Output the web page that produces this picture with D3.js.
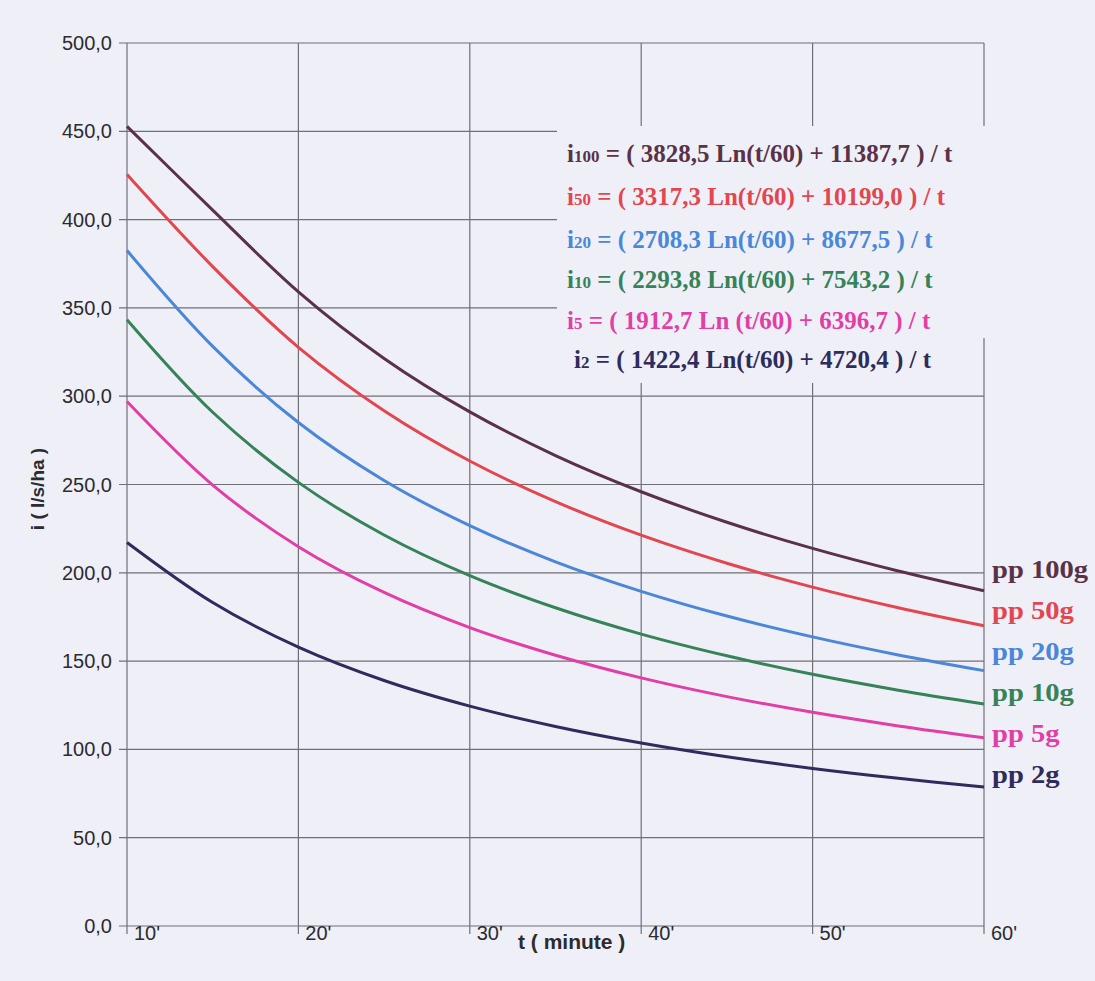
<!DOCTYPE html>
<html>
<head>
<meta charset="utf-8">
<script src="https://cdnjs.cloudflare.com/ajax/libs/d3/7.8.5/d3.min.js"></script>
<style>
  body {
    margin: 0;
    background: #efeff7;
  }
  svg {
    display: block;
  }
  .tick-label {
    font-family: "Liberation Sans", Arial, sans-serif;
    font-size: 20px;
    fill: #2b2b30;
  }
  .axis-title {
    font-family: "Liberation Sans", Arial, sans-serif;
    font-weight: bold;
    fill: #2b2b30;
  }
  .grid line {
    stroke: #6f6f78;
    stroke-width: 1.2px;
  }
  .curve {
    fill: none;
    stroke-width: 3px;
  }
  .formula, .legend {
    font-family: "Liberation Serif", "Times New Roman", serif;
    font-weight: bold;
  }
</style>
</head>
<body>
<script>

// durations (minutes) and intensities i (l/s/ha)
var minutes = [10, 15, 20, 25, 30, 35, 40, 45, 50, 55, 60];

var pp100 = [452.8, 405.4, 359.1, 321.4, 291.1, 266.4, 245.9, 228.6, 213.8, 201.0, 189.8];
var pp50  = [425.5, 373.4, 327.7, 291.8, 263.3, 240.3, 221.3, 205.4, 191.9, 180.2, 170.0];
var pp20  = [382.5, 328.2, 285.1, 252.3, 226.7, 206.2, 189.5, 175.5, 163.7, 153.5, 144.6];
var pp10  = [343.3, 290.9, 251.2, 221.4, 198.4, 180.2, 165.3, 153.0, 142.5, 133.5, 125.7];
var pp5   = [297.0, 249.7, 214.8, 188.9, 169.0, 153.3, 140.5, 129.9, 121.0, 113.3, 106.6];
var pp2   = [217.2, 183.2, 157.9, 139.0, 124.5, 113.0, 103.6,  95.8,  89.2,  83.6,  78.7];

var seriesNames = ["pp 100g", "pp 50g", "pp 20g", "pp 10g", "pp 5g", "pp 2g"];
var seriesColors = ["#5a3247", "#e2474f", "#4a87d8", "#368259", "#e13fa6", "#2d2c5c"];

var formulaSubs = ["100", "50", "20", "10", "5", "2"];
var formulaText = [
  " = ( 3828,5 Ln(t/60) + 11387,7 ) / t",
  " = ( 3317,3 Ln(t/60) + 10199,0 ) / t",
  " = ( 2708,3 Ln(t/60) + 8677,5 ) / t",
  " = ( 2293,8 Ln(t/60) + 7543,2 ) / t",
  " = ( 1912,7 Ln (t/60) + 6396,7 ) / t",
  " = ( 1422,4 Ln(t/60) + 4720,4 ) / t"
];

var yTicks = [0, 50, 100, 150, 200, 250, 300, 350, 400, 450, 500];
var xTicks = [10, 20, 30, 40, 50, 60];

var series = [pp100, pp50, pp20, pp10, pp5, pp2];

var W = 1095, H = 981;
var plotL = 127, plotR = 984, plotT = 43, plotB = 926;

var svg = d3.select("body").append("svg")
    .attr("width", W)
    .attr("height", H);

svg.append("rect")
    .attr("width", W)
    .attr("height", H)
    .attr("fill", "#efeff7");

var x = d3.scaleLinear().domain([10, 60]).range([plotL, plotR]);
var y = d3.scaleLinear().domain([0, 500]).range([plotB, plotT]);

var fmtY = function(d) { return d3.format(".1f")(d).replace(".", ","); };

// grid
var grid = svg.append("g").attr("class", "grid");

grid.selectAll(".h").data(yTicks).enter().append("line")
    .attr("x1", plotL - 8).attr("x2", plotR)
    .attr("y1", function(d) { return y(d); })
    .attr("y2", function(d) { return y(d); });

grid.selectAll(".v").data(xTicks).enter().append("line")
    .attr("x1", function(d) { return x(d); })
    .attr("x2", function(d) { return x(d); })
    .attr("y1", plotT).attr("y2", plotB + 8);

// box behind the formulas hides the grid there
svg.append("rect")
    .attr("x", 557).attr("y", 126)
    .attr("width", 443).attr("height", 212)
    .attr("fill", "#efeff7");
svg.append("rect")
    .attr("x", 557).attr("y", 336)
    .attr("width", 418).attr("height", 47)
    .attr("fill", "#efeff7");

// axis labels
svg.selectAll(".ylab").data(yTicks).enter().append("text")
    .attr("class", "tick-label")
    .attr("x", 112)
    .attr("y", function(d) { return y(d) + 7; })
    .attr("text-anchor", "end")
    .text(fmtY);

svg.selectAll(".xlab").data(xTicks).enter().append("text")
    .attr("class", "tick-label")
    .attr("x", function(d) { return x(d) + 20; })
    .attr("y", 940)
    .attr("text-anchor", "middle")
    .text(function(d) { return d + "'"; });

svg.append("text")
    .attr("class", "axis-title")
    .attr("x", 518).attr("y", 949)
    .attr("font-size", 21)
    .text("t ( minute )");

svg.append("text")
    .attr("class", "axis-title")
    .attr("transform", "translate(44,489) rotate(-90)")
    .attr("text-anchor", "middle")
    .attr("font-size", 19)
    .text("i ( l/s/ha )");

// curves
var line = d3.line()
    .curve(d3.curveCatmullRom.alpha(0.5))
    .x(function(d, i) { return x(minutes[i]); })
    .y(function(d) { return y(d); });

svg.selectAll(".curve").data(series).enter().append("path")
    .attr("class", "curve")
    .attr("stroke", function(d, i) { return seriesColors[i]; })
    .attr("d", line);

// end labels, stacked down the right edge
svg.selectAll(".legend").data(series).enter().append("text")
    .attr("class", "legend")
    .attr("x", plotR + 8)
    .attr("y", function(d, i) { return 578 + i * 41; })
    .attr("font-size", 26)
    .attr("fill", function(d, i) { return seriesColors[i]; })
    .text(function(d, i) { return seriesNames[i]; })
    .each(function() {
      var w = this.getComputedTextLength();
      d3.select(this).attr("textLength", w * 1.1).attr("lengthAdjust", "spacingAndGlyphs");
    });

// formulas
var fBase = [162, 205, 248, 288, 329, 368];
var f = svg.selectAll(".formula").data(formulaText).enter().append("text")
    .attr("class", "formula")
    .attr("x", function(d, i) { return i == 5 ? 574 : 567; })
    .attr("y", function(d, i) { return fBase[i]; })
    .attr("font-size", 25)
    .attr("fill", function(d, i) { return seriesColors[i]; });

f.append("tspan").text("i");
f.append("tspan").attr("font-size", 17).text(function(d, i) { return formulaSubs[i]; });
f.append("tspan").text(function(d) { return d; });

</script>
</body>
</html>
